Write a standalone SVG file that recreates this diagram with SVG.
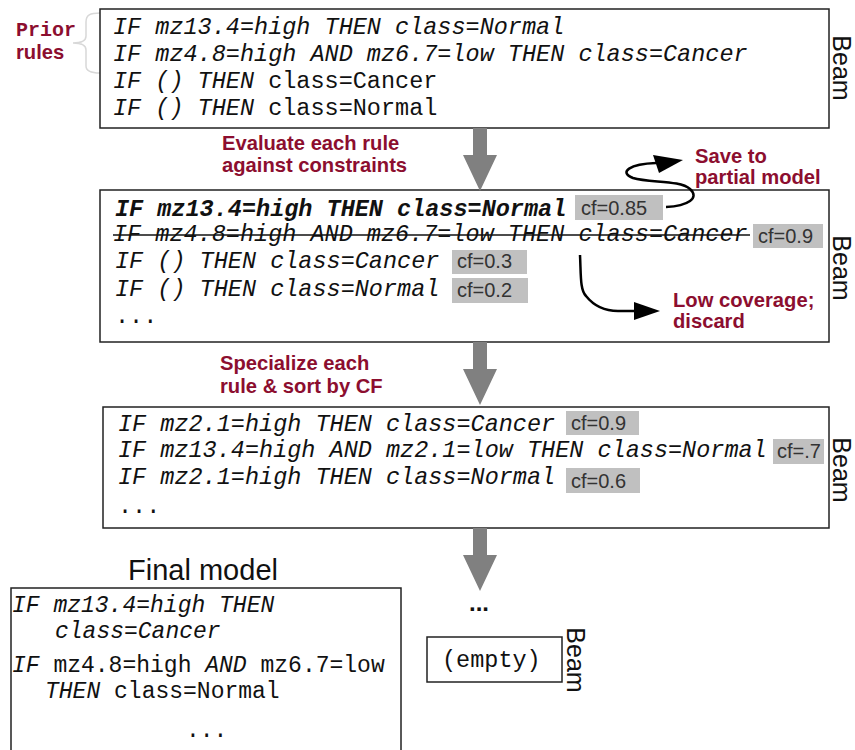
<svg xmlns="http://www.w3.org/2000/svg" width="855" height="750" viewBox="0 0 855 750">
  <style>
    .box { fill: #ffffff; stroke: #222222; stroke-width: 1.5; }
    .rule { font-family: "Liberation Mono", "DejaVu Sans Mono", monospace; font-size: 23.5px; fill: #111111; }
    .it { font-style: italic; }
    .bd { font-weight: bold; }
    .note { font-family: "Liberation Sans", Arial, sans-serif; font-weight: bold; font-size: 20.2px; fill: #8c0e2f; }
    .beam { font-family: "Liberation Sans", Arial, sans-serif; font-size: 25px; fill: #111111; }
    .cfbg { fill: #c0c0c0; }
    .cf { font-family: "Liberation Sans", Arial, sans-serif; font-size: 20px; fill: #333333; }
    .flow { fill: #808080; }
    .curve { fill: none; stroke: #000000; stroke-width: 2.5; }
    .final { font-size: 23px; }
  </style>
  <defs>
    <polygon id="bigArrow" points="-7,0 7,0 7,27 17,27 0,63 -17,27 -7,27"/>
  </defs>

  <rect width="855" height="750" fill="#ffffff"/>

  <!-- prior rules label with brace -->
  <g id="prior-label">
    <text x="16" y="36" font-family="Liberation Mono, DejaVu Sans Mono, monospace" font-weight="bold" font-size="20" fill="#8c0e2f">Prior</text>
    <text x="16" y="59" class="note">rules</text>
    <path d="M100,13 C90,13 86,15 86,22 L86,36 C86,41 82,43 73,43 C82,43 86,45 86,50 L86,66 C86,71 90,73 100,73" fill="none" stroke="#d8d8d8" stroke-width="1.5"/>
  </g>

  <!-- beam 1: prior rules -->
  <g id="beam1">
    <rect class="box" x="100" y="9" width="729" height="119"/>
    <text class="rule it" x="113" y="34">IF mz13.4=high THEN class=Normal</text>
    <text class="rule it" x="113" y="61">IF mz4.8=high AND mz6.7=low THEN class=Cancer</text>
    <text class="rule" x="113" y="88"><tspan class="it">IF () THEN</tspan> class=Cancer</text>
    <text class="rule" x="113" y="115"><tspan class="it">IF () THEN</tspan> class=Normal</text>
    <text class="beam" transform="translate(833,68) rotate(90)" text-anchor="middle">Beam</text>
  </g>

  <!-- step label 1 -->
  <g id="step-evaluate">
    <text class="note" x="222" y="150">Evaluate each rule</text>
    <text class="note" x="222" y="172">against constraints</text>
  </g>

  <!-- beam 2: evaluated rules -->
  <g id="beam2">
    <rect class="box" x="100" y="190" width="729" height="152"/>
    <text class="rule it bd" x="115" y="216">IF mz13.4=high THEN class=Normal</text>
    <rect class="cfbg" x="575" y="195" width="88" height="25"/>
    <text class="cf" x="581" y="215">cf=0.85</text>

    <text class="rule it" x="113" y="241">IF mz4.8=high AND mz6.7=low THEN class=Cancer</text>
    <line x1="113" y1="235" x2="750" y2="235" stroke="#111111" stroke-width="1.5"/>
    <rect class="cfbg" x="753" y="224" width="70" height="24"/>
    <text class="cf" x="758" y="243">cf=0.9</text>

    <text class="rule it" x="115" y="268">IF () THEN class=Cancer</text>
    <rect class="cfbg" x="452" y="250" width="75" height="24"/>
    <text class="cf" x="457" y="268">cf=0.3</text>

    <text class="rule it" x="115" y="296">IF () THEN class=Normal</text>
    <rect class="cfbg" x="452" y="278" width="76" height="25"/>
    <text class="cf" x="457" y="297">cf=0.2</text>

    <text class="rule" x="115" y="323">...</text>
    <text class="beam" transform="translate(833,268) rotate(90)" text-anchor="middle">Beam</text>
  </g>

  <!-- side notes for beam 2 -->
  <g id="note-save">
    <text class="note" x="695" y="163">Save to</text>
    <text class="note" x="695" y="184">partial model</text>
  </g>
  <g id="note-discard">
    <text class="note" x="673" y="307">Low coverage;</text>
    <text class="note" x="673" y="328">discard</text>
  </g>

  <!-- step label 2 -->
  <g id="step-specialize">
    <text class="note" x="220" y="370">Specialize each</text>
    <text class="note" x="220" y="393">rule &amp; sort by CF</text>
  </g>

  <!-- beam 3: specialized rules -->
  <g id="beam3">
    <rect class="box" x="103" y="407" width="726" height="121"/>
    <text class="rule it" x="118" y="431">IF mz2.1=high THEN class=Cancer</text>
    <rect class="cfbg" x="566" y="411" width="73" height="24"/>
    <text class="cf" x="571" y="430">cf=0.9</text>

    <text class="rule it" x="118" y="457">IF mz13.4=high AND mz2.1=low THEN class=Normal</text>
    <rect class="cfbg" x="773" y="439" width="51" height="25"/>
    <text class="cf" x="777" y="458">cf=.7</text>

    <text class="rule it" x="118" y="484">IF mz2.1=high THEN class=Normal</text>
    <rect class="cfbg" x="566" y="468" width="74" height="25"/>
    <text class="cf" x="571" y="488">cf=0.6</text>

    <text class="rule" x="118" y="513">...</text>
    <text class="beam" transform="translate(833,470) rotate(90)" text-anchor="middle">Beam</text>
  </g>

  <!-- final beam: empty -->
  <g id="beam-empty">
    <text x="479" y="611" text-anchor="middle" font-family="Liberation Sans, Arial, sans-serif" font-weight="bold" font-size="24" fill="#111111">...</text>
    <rect class="box" x="427" y="637" width="135" height="45"/>
    <text class="rule" x="442" y="667" font-size="25">(empty)</text>
    <text class="beam" transform="translate(567,660) rotate(90)" text-anchor="middle">Beam</text>
  </g>

  <!-- final model -->
  <g id="final-model">
    <text x="203" y="580" text-anchor="middle" font-family="Liberation Sans, Arial, sans-serif" font-size="29" fill="#111111">Final model</text>
    <rect class="box" x="11" y="588" width="390" height="170"/>
    <text class="rule final it" x="12" y="612">IF mz13.4=high THEN</text>
    <text class="rule final it" x="55" y="638">class=Cancer</text>
    <text class="rule final" x="12" y="672"><tspan class="it">IF</tspan> mz4.8=high <tspan class="it">AND</tspan> mz6.7=low</text>
    <text class="rule final" x="45" y="698"><tspan class="it">THEN</tspan> class=Normal</text>
    <text class="rule final" x="186" y="737">...</text>
  </g>

  <!-- connectors -->
  <g id="connectors">
    <use href="#bigArrow" class="flow" x="480" y="128"/>
    <use href="#bigArrow" class="flow" x="480" y="342"/>
    <use href="#bigArrow" class="flow" x="480" y="528"/>

    <!-- save to partial model -->
    <path class="curve" d="M666,207 C688,206 700,198 690,189 C680,180 650,183 633,178 C618,172 630,164 656,163"/>
    <polygon points="683,160 653,155 659,173" fill="#000000"/>

    <!-- low coverage, discard -->
    <path class="curve" d="M580,255 C581,275 580,290 586,296 C594,306 604,311 618,311 L637,311"/>
    <polygon points="660,311 634,302 634,320" fill="#000000"/>
  </g>
</svg>
